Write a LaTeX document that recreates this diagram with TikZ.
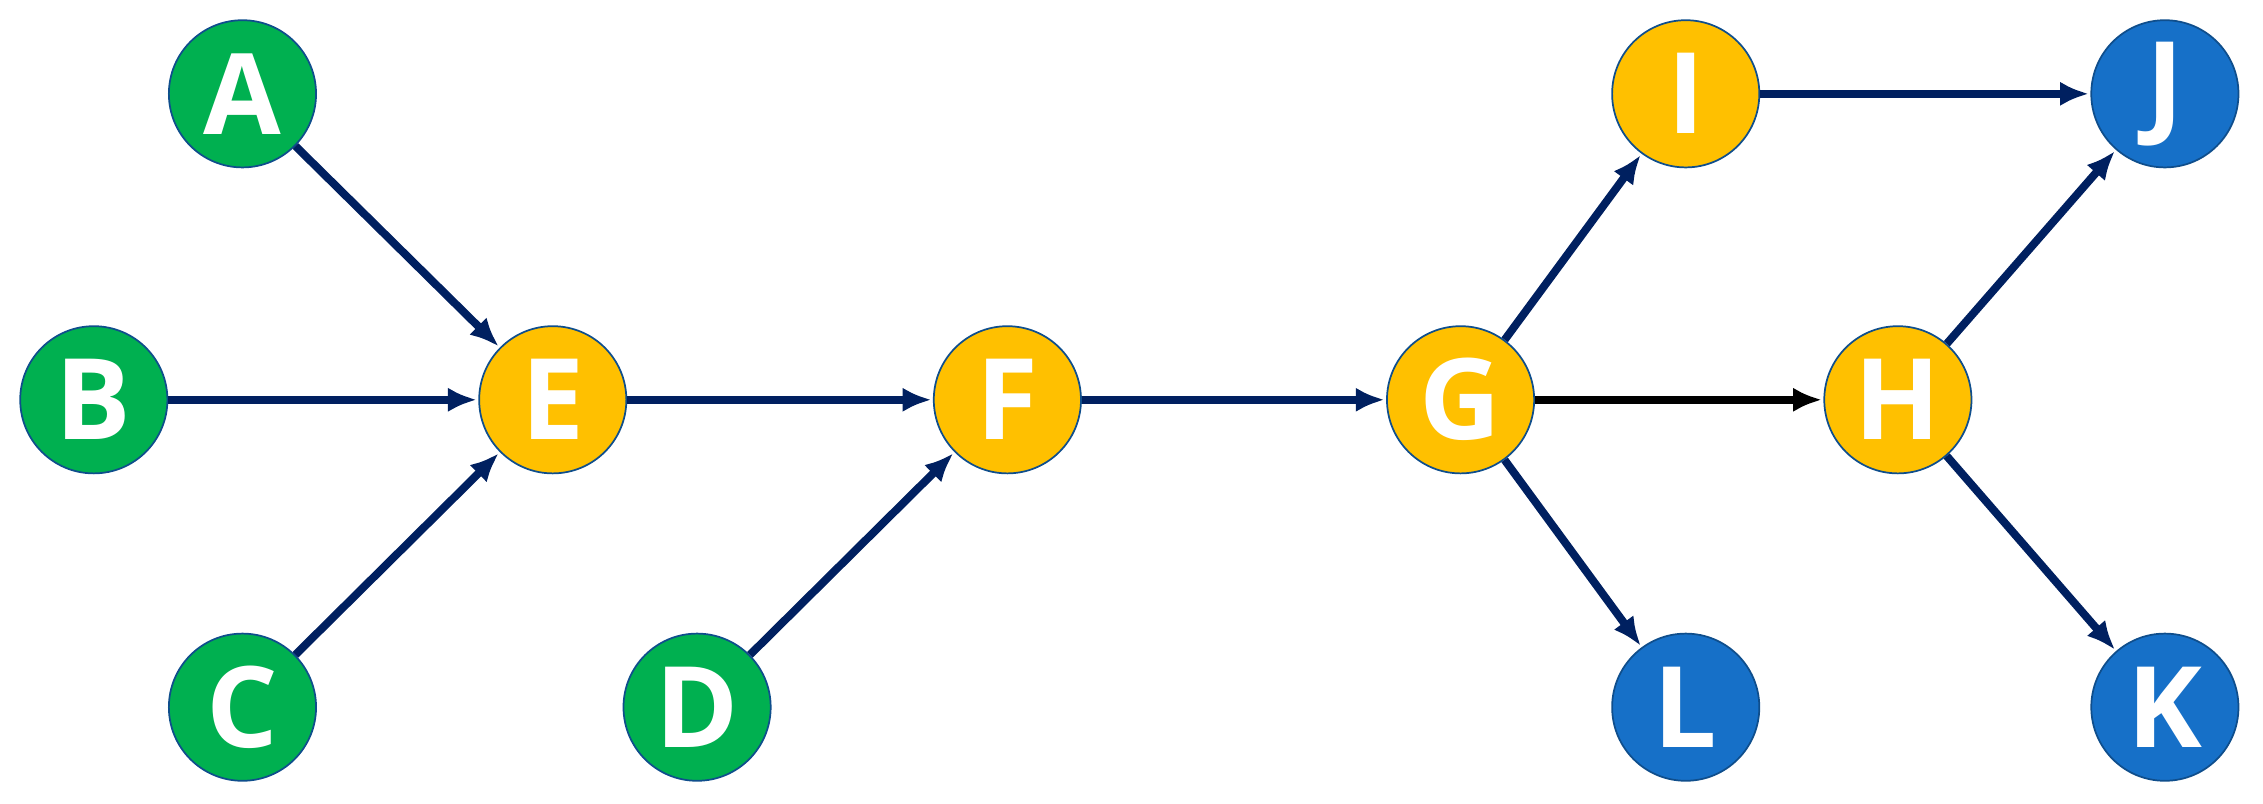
\documentclass[tikz,border=0pt]{standalone}
\usepackage{fontspec}
\setmainfont{Open Sans}
\usetikzlibrary{positioning,arrows.meta}
\definecolor{leafgreen}{RGB}{0,176,80}
\definecolor{midgold}{RGB}{255,192,0}
\definecolor{endblue}{RGB}{22,112,200}
\definecolor{edgenavy}{RGB}{0,32,96}
\begin{document}
\begin{tikzpicture}[x=1pt, y=-1pt, node distance=1em,
    arrow/.style={-{Latex[length=20pt,width=17pt]}, line width=5.5pt, draw=edgenavy, shorten >=1pt},
    task/.style={circle, draw=endblue!70!black, line width=1.2pt, minimum size=102pt, inner sep=0pt,
      font=\fontsize{78}{78}\selectfont\bfseries, text=white},
    src/.style={task, fill=leafgreen},
    mid/.style={task, fill=midgold},
    sink/.style={task, fill=endblue}]
    \useasboundingbox (0,0) rectangle (1568,557);

    \node [src] (a) at (168,65) {A};
    \node [src] (b) at (65,277) {B};
    \node [src] (c) at (168,490) {C};
    \node [src] (d) at (483,490) {D};
    \node [mid] (e) at (383,277) {E};
    \node [mid] (f) at (698,277) {F};
    \node [mid] (g) at (1012,277) {G};
    \node [mid] (h) at (1315,277) {H};
    \node [mid] (i) at (1168,65) {I};
    \node [sink] (j) at (1500,65) {J};
    \node [sink] (l) at (1168,490) {L};
    \node [sink] (k) at (1500,490) {K};

    \draw[arrow] (a) -- (e);
    \draw[arrow] (b) -- (e);
    \draw[arrow] (c) -- (e);
    \draw[arrow] (e) -- (f);
    \draw[arrow] (d) -- (f);
    \draw[arrow] (f) -- (g);
    \draw[arrow, draw=black] (g) -- (h);
    \draw[arrow] (g) -- (i);
    \draw[arrow] (g) -- (l);
    \draw[arrow] (i) -- (j);
    \draw[arrow] (h) -- (j);
    \draw[arrow] (h) -- (k);

\end{tikzpicture}
\end{document}
